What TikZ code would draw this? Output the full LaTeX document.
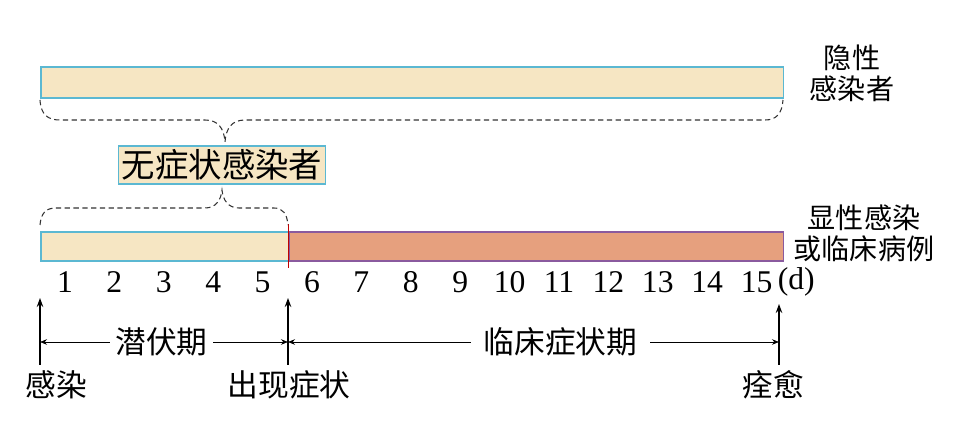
\documentclass[tikz,border=0pt]{standalone}
\usepackage{fontspec}
\setmainfont{Liberation Serif}
\newfontfamily\cjk{Noto Sans CJK SC}
\usetikzlibrary{positioning,arrows.meta}
\definecolor{latentfill}{HTML}{F6E6C3}
\definecolor{latentline}{HTML}{5BB8D2}
\definecolor{sickfill}{HTML}{E6A07E}
\definecolor{sickline}{HTML}{8A5A9E}

\begin{document}
\begin{tikzpicture}[
  x=0.02cm, y=-0.02cm,
  font=\fontsize{18}{20}\selectfont,
  lbl/.style={font=\cjk\fontsize{17.5}{19}\selectfont, inner sep=1pt},
  side/.style={font=\cjk\fontsize{16}{17.5}\selectfont, inner sep=1pt, align=center},
  latentbar/.style={draw=latentline, fill=latentfill, line width=0.9pt, inner sep=0pt, anchor=north west},
  sickbar/.style={draw=sickline, fill=sickfill, line width=0.9pt, inner sep=0pt, anchor=north west},
  brace/.style={densely dashed, semithick, black!80},
  arr/.style={-{Stealth[length=1.8mm,width=1.3mm]}, semithick},
  span/.style={{Stealth[length=1.4mm,width=1.1mm]}-{Stealth[length=1.4mm,width=1.1mm]}, thin}
]
  \useasboundingbox (0,0) rectangle (964,432);

  % bars
  \node[latentbar, minimum width=14.86cm, minimum height=0.62cm] (hidden) at (40,66) {};
  \node[latentbar, minimum width=4.96cm, minimum height=0.58cm] (incub) at (40,231) {};
  \node[sickbar, minimum width=9.9cm, minimum height=0.58cm] (clinic) at (288,231) {};
  \draw[red!75!black] (288,224) -- (288,268);

  % side labels
  \node[side] (hiddenlbl) at (852,73) {隐性\\感染者};
  \node[side] (clinlbl) at (864,233) {显性感染\\或临床病例};

  % braces
  \draw[brace] (40,100) .. controls (41,115) and (48,120) .. (60,120)
    -- (205,120) .. controls (218,120) and (224,128) .. (225,142)
    .. controls (226,128) and (232,120) .. (245,120)
    -- (765,120) .. controls (776,120) and (782,114) .. (783,100);
  \node[draw=latentline, fill=latentfill, line width=0.9pt, inner sep=2pt,
    font=\cjk\fontsize{19}{21}\selectfont] (asym) at (222,165) {无症状感染者};
  \draw[brace] (40,225) .. controls (41,213) and (46,208) .. (56,208)
    -- (205,208) .. controls (216,208) and (221,200) .. (222,190)
    .. controls (223,200) and (228,208) .. (239,208)
    -- (274,208) .. controls (283,208) and (287,214) .. (288,225);

  % days
  \foreach \d in {1,...,15}
    \node (day\d) at ({65+(\d-1)*49.4},282) {\d};
  \node[right=-4pt of day15] (unit) {(d)};

  % events
  \coordinate (infA) at (40,365);
  \coordinate (infB) at (40,298);
  \coordinate (symA) at (288,365);
  \coordinate (symB) at (288,298);
  \coordinate (recA) at (779,365);
  \coordinate (recB) at (779,304);
  \draw[arr] (infA) -- (infB);
  \draw[arr] (symA) -- (symB);
  \draw[arr] (recA) -- (recB);
  \coordinate (spanL) at (40,342);
  \coordinate (spanM) at (288,342);
  \coordinate (spanR) at (779,342);
  \draw[span] (spanL) -- node[lbl, fill=white, inner xsep=3pt, pos=0.49] (latper) {潜伏期} (spanM);
  \draw[span] (spanM) -- node[lbl, fill=white, inner xsep=7pt, pos=0.555] (clinper) {临床症状期} (spanR);

  \node[lbl] (inflbl) at (56,385) {感染};
  \node[lbl] (symlbl) at (289,385) {出现症状};
  \node[lbl] (reclbl) at (773,385) {痊愈};
\end{tikzpicture}
\end{document}
